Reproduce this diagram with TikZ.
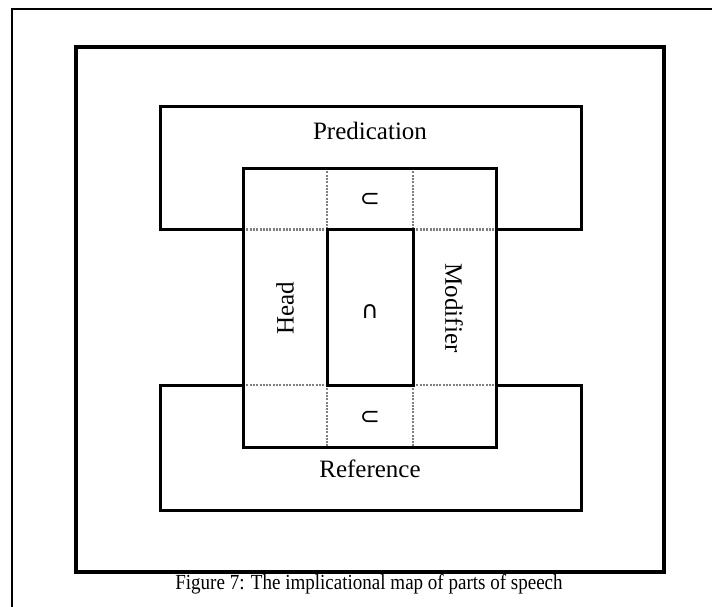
\documentclass[tikz,border=0pt]{standalone}
\usepackage{fontspec}
\setmainfont{Liberation Serif}
\newfontfamily\symfont{DejaVu Sans}
\tikzset{
  pagerule/.style={line width=1.5pt, black},
  frameline/.style={line width=4.5pt, black},
  boxline/.style={line width=3pt, black},
  cellrule/.style={line width=2.2pt, black!50, dash pattern=on 2pt off 1.3pt},
  label/.style={font=\fontsize{25}{28}\selectfont, inner sep=0pt},
  relsym/.style={font=\symfont\fontsize{24}{26}\selectfont, inner sep=0pt},
  caption/.style={font=\fontsize{21.5}{24}\selectfont, inner sep=0pt}
}
\begin{document}
\begin{tikzpicture}[x=1pt,y=-1pt]
  \useasboundingbox (0,0) rectangle (712,607);
  \fill[white] (0,0) rectangle (712,607);

  % page edge rules
  \coordinate (pgTR) at (712,9);
  \coordinate (pgTL) at (12,9);
  \coordinate (pgBL) at (12,607);
  \draw[pagerule] (pgTR) -- (pgTL) -- (pgBL);

  % heavy outer frame
  \coordinate (frNW) at (76,47);
  \coordinate (frSE) at (664,572);
  \draw[frameline] (frNW) rectangle (frSE);

  % grid coordinates of the central column
  \coordinate (cNW) at (243,168);
  \coordinate (cSE) at (496,447);
  \coordinate (a1) at (243,229.5);
  \coordinate (a2) at (327,229.5);
  \coordinate (a3) at (413,229.5);
  \coordinate (a4) at (496,229.5);
  \coordinate (b1) at (243,385);
  \coordinate (b2) at (327,385);
  \coordinate (b3) at (413,385);
  \coordinate (b4) at (496,385);
  \coordinate (t2) at (327,168);
  \coordinate (t3) at (413,168);
  \coordinate (u2) at (327,447);
  \coordinate (u3) at (413,447);

  % dotted cell boundaries
  \draw[cellrule] (a1) -- (a2);
  \draw[cellrule] (a3) -- (a4);
  \draw[cellrule] (b1) -- (b2);
  \draw[cellrule] (b3) -- (b4);
  \draw[cellrule] (t2) -- (a2);
  \draw[cellrule] (t3) -- (a3);
  \draw[cellrule] (b2) -- (u2);
  \draw[cellrule] (b3) -- (u3);

  % Predication band
  \coordinate (pNW) at (160,107);
  \coordinate (pNE) at (581,107);
  \coordinate (pSW) at (160,229.5);
  \coordinate (pSE) at (581,229.5);
  \draw[boxline] (a1) -- (pSW) -- (pNW) -- (pNE) -- (pSE) -- (a4);

  % Reference band
  \coordinate (rNW) at (160,385);
  \coordinate (rNE) at (581,385);
  \coordinate (rSW) at (160,510);
  \coordinate (rSE) at (581,510);
  \draw[boxline] (b1) -- (rNW) -- (rSW) -- (rSE) -- (rNE) -- (b4);

  % central column and inner box
  \draw[boxline] (cNW) rectangle (cSE);
  \draw[boxline] (a2) rectangle (b3);

  % labels
  \node[label] (pred) at (370,131) {Predication};
  \node[label] (ref) at (370,469) {Reference};
  \node[label, rotate=90] (head) at (285,308) {Head};
  \node[label, rotate=-90] (mod) at (454,308) {Modifier};

  % inclusion and intersection marks
  \node[relsym] (subTop) at (370,200) {⊂};
  \node[relsym] (cap) at (370,312) {∩};
  \node[relsym] (subBot) at (370,418) {⊂};

  % caption, set slightly condensed
  \node[caption] (cap7) at (369,584) {\scalebox{0.885}[1]{Figure 7: The implicational map of parts of speech}};
\end{tikzpicture}
\end{document}
